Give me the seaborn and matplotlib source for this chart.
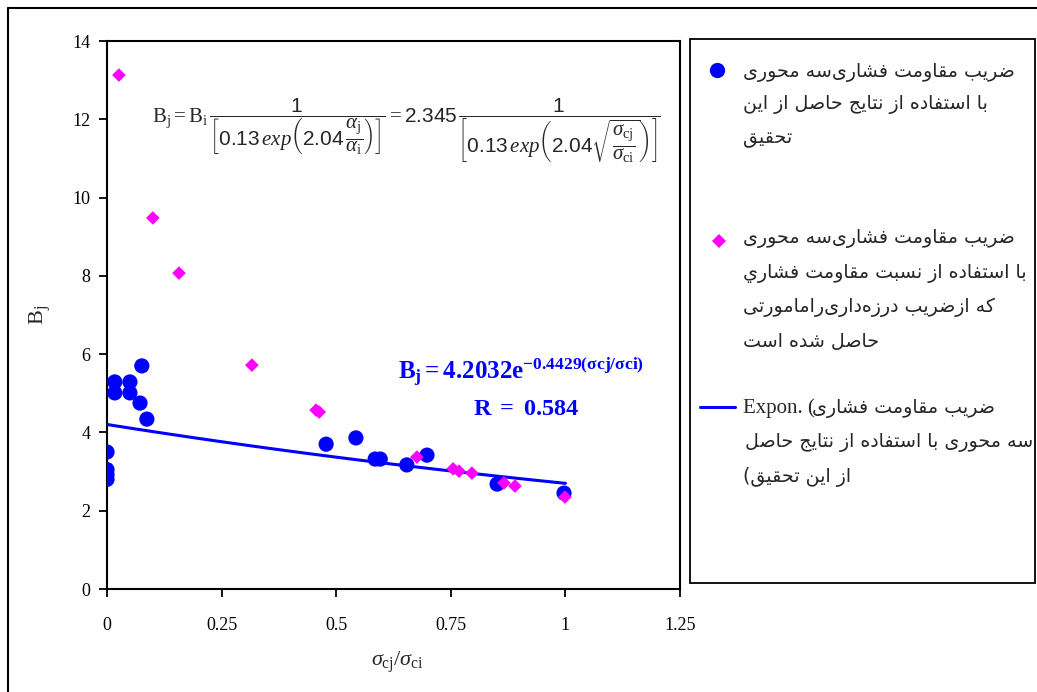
import numpy as np
import pandas as pd
import matplotlib
matplotlib.use("Agg")
import matplotlib.pyplot as plt
import seaborn as sns
from matplotlib.lines import Line2D
from matplotlib.patches import Rectangle
from matplotlib.transforms import Bbox, TransformedBbox

# blue circles: results of this study
study_x = [0.0, 0.0, 0.0, 0.0, 0.017, 0.050, 0.017, 0.050, 0.076, 0.072, 0.087,
           0.478, 0.543, 0.585, 0.596, 0.654, 0.698, 0.851, 0.997]
study_y = [3.50, 3.05, 2.92, 2.80, 5.29, 5.29, 5.01, 5.01, 5.70, 4.75, 4.34,
           3.70, 3.86, 3.32, 3.32, 3.17, 3.42, 2.68, 2.45]

# magenta diamonds: from the strength ratio (Ramamurthy jointing coefficient)
ratio_x = [0.026, 0.100, 0.157, 0.316, 0.456, 0.463, 0.676, 0.755, 0.768,
           0.796, 0.866, 0.890, 0.999]
ratio_y = [13.13, 9.48, 8.07, 5.72, 4.57, 4.52, 3.37, 3.07, 3.01,
           2.96, 2.71, 2.63, 2.35]

# exponential trendline of the blue series, as printed on the chart
trend_a = 4.2032
trend_b = -0.4429
trend_r = 0.584

x_ticks = [0, 0.25, 0.5, 0.75, 1, 1.25]
x_tick_labels = ["0", "0.25", "0.5", "0.75", "1", "1.25"]
y_ticks = [0, 2, 4, 6, 8, 10, 12, 14]

legend_study = ["ضریب مقاومت فشاری\u200cسه محوری",
                "با استفاده از نتایج حاصل از این",
                "تحقیق"]
legend_ratio = ["ضریب مقاومت فشاری\u200cسه محوری",
                "با استفاده از نسبت مقاومت فشاري",
                "که ازضریب درزه\u200cداری\u200cرامامورتی",
                "حاصل شده است"]
legend_trend = ["ضریب مقاومت فشاری",
                "سه محوری با استفاده از نتایج حاصل",
                "از این تحقیق)"]

# --- minimal arabic shaping (matplotlib has no bidi / joining) ---
FORMS = {
    'ا': ('\uFE8D', '\uFE8E', None, None),
    'ب': ('\uFE8F', '\uFE90', '\uFE91', '\uFE92'),
    'ت': ('\uFE95', '\uFE96', '\uFE97', '\uFE98'),
    'ج': ('\uFE9D', '\uFE9E', '\uFE9F', '\uFEA0'),
    'ح': ('\uFEA1', '\uFEA2', '\uFEA3', '\uFEA4'),
    'د': ('\uFEA9', '\uFEAA', None, None),
    'ر': ('\uFEAD', '\uFEAE', None, None),
    'ز': ('\uFEAF', '\uFEB0', None, None),
    'س': ('\uFEB1', '\uFEB2', '\uFEB3', '\uFEB4'),
    'ش': ('\uFEB5', '\uFEB6', '\uFEB7', '\uFEB8'),
    'ص': ('\uFEB9', '\uFEBA', '\uFEBB', '\uFEBC'),
    'ض': ('\uFEBD', '\uFEBE', '\uFEBF', '\uFEC0'),
    'ط': ('\uFEC1', '\uFEC2', '\uFEC3', '\uFEC4'),
    'ف': ('\uFED1', '\uFED2', '\uFED3', '\uFED4'),
    'ق': ('\uFED5', '\uFED6', '\uFED7', '\uFED8'),
    'ک': ('\uFED9', '\uFEDA', '\uFEDB', '\uFEDC'),
    'ل': ('\uFEDD', '\uFEDE', '\uFEDF', '\uFEE0'),
    'م': ('\uFEE1', '\uFEE2', '\uFEE3', '\uFEE4'),
    'ن': ('\uFEE5', '\uFEE6', '\uFEE7', '\uFEE8'),
    'ه': ('\uFEE9', '\uFEEA', '\uFEEB', '\uFEEC'),
    'و': ('\uFEED', '\uFEEE', None, None),
    'ي': ('\uFEF1', '\uFEF2', '\uFEF3', '\uFEF4'),
    'ی': ('\uFEEF', '\uFEF0', '\uFEF3', '\uFEF4'),
}
RIGHT_ONLY = set('ادرزو')


def shape(s):
    out = []
    for i, ch in enumerate(s):
        if ch not in FORMS:
            out.append(ch)
            continue
        prev = s[i - 1] if i > 0 else ''
        nxt = s[i + 1] if i + 1 < len(s) else ''
        jp = prev in FORMS and prev not in RIGHT_ONLY
        jn = ch not in RIGHT_ONLY and nxt in FORMS
        iso, fin, ini, med = FORMS[ch]
        if jp and jn:
            out.append(med)
        elif jp:
            out.append(fin)
        elif jn:
            out.append(ini)
        else:
            out.append(iso)
    vis = ''.join(c for c in out if c != '\u200c')[::-1]
    return vis.translate(str.maketrans('()', ')('))


sns.set_style("white")
plt.rcParams['font.family'] = ['Liberation Serif', 'DejaVu Sans']
plt.rcParams['mathtext.fontset'] = 'custom'
plt.rcParams['mathtext.rm'] = 'Liberation Serif'
plt.rcParams['mathtext.it'] = 'Liberation Serif:italic'
plt.rcParams['mathtext.bf'] = 'Liberation Serif:bold'
plt.rcParams['mathtext.sf'] = 'Liberation Sans'

W, H = 1037, 692
fig = plt.figure(figsize=(W / 100, H / 100), dpi=100)


def fx(px):
    return px / W


def fy(py):
    return 1 - py / H


ax = fig.add_axes([fx(107), fy(589), fx(680) - fx(107), fy(41) - fy(589)])

study = pd.DataFrame({"x": study_x, "y": study_y})
ratio = pd.DataFrame({"x": ratio_x, "y": ratio_y})
tx = np.linspace(0, 1, 50)
trend = pd.DataFrame({"x": tx, "y": trend_a * np.exp(trend_b * tx)})

sns.scatterplot(data=study, x="x", y="y", ax=ax, color="#0000FF", marker="o",
                s=120, edgecolor="none", zorder=3)
sns.lineplot(data=trend, x="x", y="y", ax=ax, color="#0000FF", lw=2.2, zorder=4)
sns.scatterplot(data=ratio, x="x", y="y", ax=ax, color="#FF00FF", marker="D",
                s=48, edgecolor="none", zorder=5)

ax.set_xlim(0, 1.25)
ax.set_ylim(0, 14)
ax.set_xticks(x_ticks)
ax.set_xticklabels(x_tick_labels)
ax.set_yticks(y_ticks)
ax.set_xlabel("")
ax.set_ylabel("")
for sp in ax.spines.values():
    sp.set_color("black")
    sp.set_linewidth(1.5)
ax.tick_params(axis="both", direction="out", length=6, width=1.3, colors="black",
               labelsize=13)
ax.tick_params(axis="x", pad=14)
ax.tick_params(axis="y", pad=6, left=True)
ax.tick_params(axis="x", bottom=True)

# equation at top
eq = (r"$\mathrm{B}_{\mathrm{j}} = \mathrm{B}_{\mathrm{i}}\,"
      r"\dfrac{\mathsf{1}}{\left[\mathsf{0.13}\,\mathit{exp}\left(\mathsf{2.04}\,"
      r"\dfrac{\alpha_{\mathrm{j}}}{\alpha_{\mathrm{i}}}\right)\right]} = \mathsf{2.345}\,"
      r"\dfrac{\mathsf{1}}{\left[\mathsf{0.13}\,\mathit{exp}\left(\mathsf{2.04}"
      r"\sqrt{\dfrac{\sigma_{\mathrm{cj}}}{\sigma_{\mathrm{ci}}}}\right)\right]}$")
fig.text(fx(406), fy(131), eq, ha="center", va="center", fontsize=15)

# trendline label
fig.text(fx(398), fy(372), r"$\mathbf{B_j = 4.2032e^{-0.4429(\sigma cj/\sigma ci)}}$",
         ha="left", va="center", fontsize=18, color="#0000FF")
fig.text(fx(526), fy(410), r"$\mathbf{R\ =\ 0.584}$", ha="center", va="center",
         fontsize=17.5, color="#0000FF")

# axis labels
fig.text(fx(40), fy(315), r"$\mathrm{B_j}$", rotation=90, ha="center", va="center",
         fontsize=16)
fig.text(fx(397), fy(662), r"$\sigma_{\mathrm{cj}}/\sigma_{\mathrm{ci}}$",
         ha="center", va="center", fontsize=16)

# outer frame (cut at right and bottom)
fig.add_artist(Line2D([fx(8), fx(8)], [0, fy(8)], transform=fig.transFigure,
                      color="black", lw=1.5))
fig.add_artist(Line2D([fx(8), 1], [fy(8), fy(8)], transform=fig.transFigure,
                      color="black", lw=1.5))

# legend box
lb = [fx(690), fy(583), fx(1035), fy(39)]
fig.add_artist(Rectangle((lb[0], lb[1]), lb[2] - lb[0], lb[3] - lb[1],
                         transform=fig.transFigure, fill=False, edgecolor="black",
                         lw=1.3))
fig.add_artist(Line2D([fx(717)], [fy(70)], transform=fig.transFigure, marker="o",
                      markersize=11, color="#0000FF", markeredgewidth=0))
fig.add_artist(Line2D([fx(719)], [fy(241)], transform=fig.transFigure, marker="D",
                      markersize=7, color="#FF00FF", markeredgewidth=0))
fig.add_artist(Line2D([fx(700), fx(735)], [fy(407), fy(407)],
                      transform=fig.transFigure, color="#0000FF", lw=2.2))

arab = ['DejaVu Sans']
fs = 13.7
lx = fx(743)
for txt, py in zip(legend_study, [73, 105, 138]):
    fig.text(lx, fy(py), shape(txt), family=arab, fontsize=fs, ha="left", va="center")
for txt, py in zip(legend_ratio, [238, 274, 307, 342]):
    fig.text(lx, fy(py), shape(txt), family=arab, fontsize=fs, ha="left", va="center")

fig.text(lx, fy(408), "Expon. (", fontsize=15, ha="left", va="center")
fig.text(fx(812), fy(408), shape(legend_trend[0]), family=arab, fontsize=fs,
         ha="left", va="center")
clip = TransformedBbox(Bbox([[lb[0], lb[1]], [lb[2], lb[3]]]), fig.transFigure)
t = fig.text(fx(1033), fy(443), shape(legend_trend[1]), family=arab, fontsize=fs,
             ha="right", va="center")
t.set_clip_box(clip)
t.set_clip_on(True)
fig.text(lx, fy(477), shape(legend_trend[2]), family=arab, fontsize=fs,
         ha="left", va="center")

fig.savefig("out.png", dpi=100)
